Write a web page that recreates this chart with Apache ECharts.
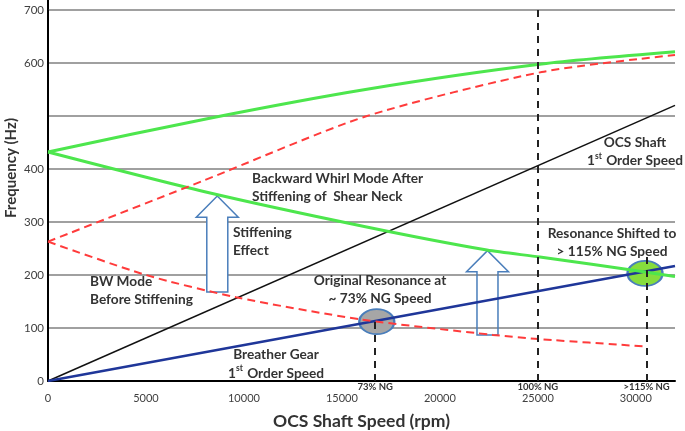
<!DOCTYPE html>
<html><head><meta charset="utf-8">
<script src="https://cdn.jsdelivr.net/npm/echarts@6/dist/echarts.min.js"></script>
<style>html,body{margin:0;padding:0;background:#fff}#c{width:685px;height:431px}</style>
</head><body><div id="c"></div>
<script>
// ---- data (rpm, Hz) ----
const xTicks = [0, 5000, 10000, 15000, 20000, 25000, 30000];
const yTickLabels = ['0', '100', '200', '300', '400', '', '600', '700'];
const ocsShaft = [[0, 0], [32000, 520]];
const breatherGear = [[0, 0], [32000, 217]];
const fwAfter = [[0, 432], [8000, 494], [16200, 550], [25200, 598], [32000, 621]];
const bwAfter = [[0, 432], [8000, 357], [16200, 291], [22400, 247], [25100, 234], [30400, 206], [32000, 197]];
const fwBefore = [[0, 263], [8000, 379], [16200, 499], [25200, 583], [32000, 615]];
const bwBefore = [[0, 263], [5000, 200], [9600, 158], [16000, 116], [22700, 87], [25100, 79], [30550, 65]];
const ngSpeeds = [16700, 25000, 30550];
const ngLabels = ['73% NG', '100% NG', '>115% NG'];
const ngTops = [112, 700, 238];
const resonances = [[16780, 112], [30470, 203]];
const resonanceFills = ['#a6a6a6', '#86dc3c'];
// arrows: x, bottom, head base, tip
const arrows = [[8640, 168, 309, 349], [22430, 87, 206, 246]];

const FONT = 'Lato, "Open Sans", sans-serif';
const TXT = '#333';

const chart = echarts.init(document.getElementById('c'));

function note(x, y, text, align, extra) {
  return {
    type: 'text', x: x, y: y, z: 100,
    style: Object.assign({
      text: text, fill: TXT, font: 'bold 13.7px ' + FONT,
      align: align, verticalAlign: 'top', lineHeight: 18,
      rich: { s: { fontSize: 8.5, fontWeight: 'bold', fontFamily: FONT, fill: TXT, verticalAlign: 'top', lineHeight: 18, padding: [0, 1, 0, 0] } }
    }, extra || {})
  };
}

const option = {
  animation: false,
  backgroundColor: '#fff',
  grid: { left: 48, right: 10, top: 10, bottom: 50, outerBoundsMode: 'none', containLabel: false },
  xAxis: {
    type: 'value', min: 0, max: 32000, interval: 5000,
    name: 'OCS Shaft Speed (rpm)', nameLocation: 'middle', nameGap: 31,
    nameTextStyle: { fontFamily: FONT, fontWeight: 'bold', fontSize: 17.5, color: TXT },
    axisLine: { show: true, lineStyle: { color: '#000', width: 2 } },
    axisTick: { show: false },
    splitLine: { show: false },
    axisLabel: {
      margin: 12, fontFamily: FONT, fontSize: 11, color: '#404040',
      customValues: xTicks, formatter: v => String(v)
    }
  },
  yAxis: {
    type: 'value', min: 0, max: 700, interval: 100,
    axisLine: { show: true, lineStyle: { color: '#000', width: 2 } },
    axisTick: { show: false },
    splitLine: { show: true, lineStyle: { color: '#808080', width: 1.5 } },
    axisLabel: {
      margin: 4, fontFamily: FONT, fontSize: 11.5, color: '#404040',
      formatter: v => yTickLabels[Math.round(v / 100)]
    }
  },
  series: [
    {
      type: 'scatter', z: 1, symbol: 'circle', symbolSize: [35, 25],
      data: resonances.map((p, i) => ({ value: p, itemStyle: { color: resonanceFills[i] } })),
      itemStyle: { borderColor: '#4a7ebb', borderWidth: 2, opacity: 1 }
    },
    {
      type: 'custom', z: 1, data: arrows,
      renderItem: function (params, api) {
        const x = api.value(0);
        const b = api.coord([x, api.value(1)]);
        const hb = api.coord([x, api.value(2)]);
        const t = api.coord([x, api.value(3)]);
        const sw = 10.5, hw = 21;
        return {
          type: 'polygon',
          shape: { points: [[b[0] - sw, b[1]], [b[0] + sw, b[1]], [b[0] + sw, hb[1]], [b[0] + hw, hb[1]], [t[0], t[1]], [b[0] - hw, hb[1]], [b[0] - sw, hb[1]]] },
          style: { fill: params.dataIndex === 0 ? '#fff' : 'rgba(0,0,0,0)', stroke: '#4a7ebb', lineWidth: 1.5 }
        };
      }
    },
    {
      name: 'OCS Shaft 1st Order Speed', type: 'line', data: ocsShaft, symbol: 'none', z: 3,
      lineStyle: { color: '#111', width: 1.5 },
      markLine: {
        silent: true, symbol: 'none', animation: false,
        lineStyle: { color: '#222', width: 2, type: [7, 6] },
        label: { show: true, position: 'start', distance: 1, fontFamily: FONT, fontWeight: 'bold', fontSize: 9.5, color: TXT, formatter: p => p.name },
        data: ngSpeeds.map((x, i) => [{ name: ngLabels[i], coord: [x, 0] }, { coord: [x, ngTops[i]] }])
      }
    },
    { name: 'Breather Gear 1st Order Speed', type: 'line', data: breatherGear, symbol: 'none', z: 3, lineStyle: { color: '#1f3699', width: 2.5 } },
    { name: 'FW after', type: 'line', data: fwAfter, symbol: 'none', smooth: 0.25, z: 3, lineStyle: { color: '#4de64d', width: 3 } },
    { name: 'BW after', type: 'line', data: bwAfter, symbol: 'none', smooth: 0.25, z: 3, lineStyle: { color: '#4de64d', width: 3 } },
    { name: 'FW before', type: 'line', data: fwBefore, symbol: 'none', smooth: 0.25, z: 3, lineStyle: { color: '#ff3b3b', width: 2, type: [8, 5] } },
    { name: 'BW before', type: 'line', data: bwBefore, symbol: 'none', smooth: 0.25, z: 3, lineStyle: { color: '#ff3b3b', width: 2, type: [8, 5] } }
  ],
  graphic: [
    { type: 'line', shape: { x1: 48, y1: 0, x2: 48, y2: 10 }, style: { stroke: '#000', lineWidth: 2 } },
    {
      type: 'text', x: 11, y: 168, rotation: Math.PI / 2, z: 100,
      style: { text: 'Frequency (Hz)', fill: TXT, font: 'bold 15px ' + FONT, align: 'center', verticalAlign: 'middle' }
    },
    note(635, 134, 'OCS Shaft\n1{s|st} Order Speed', 'center'),
    note(252, 170, 'Backward Whirl Mode After\nStiffening of  Shear Neck', 'left'),
    note(233, 224, 'Stiffening\nEffect', 'left'),
    note(90, 273, 'BW Mode\nBefore Stiffening', 'left'),
    note(380, 272, 'Original Resonance at\n~ 73% NG Speed', 'center'),
    note(612, 225, 'Resonance Shifted to\n> 115% NG Speed', 'center'),
    note(276, 345, 'Breather Gear\n1{s|st} Order Speed', 'center', { lineHeight: 19 })
  ]
};
chart.setOption(option);
</script>
</body></html>
